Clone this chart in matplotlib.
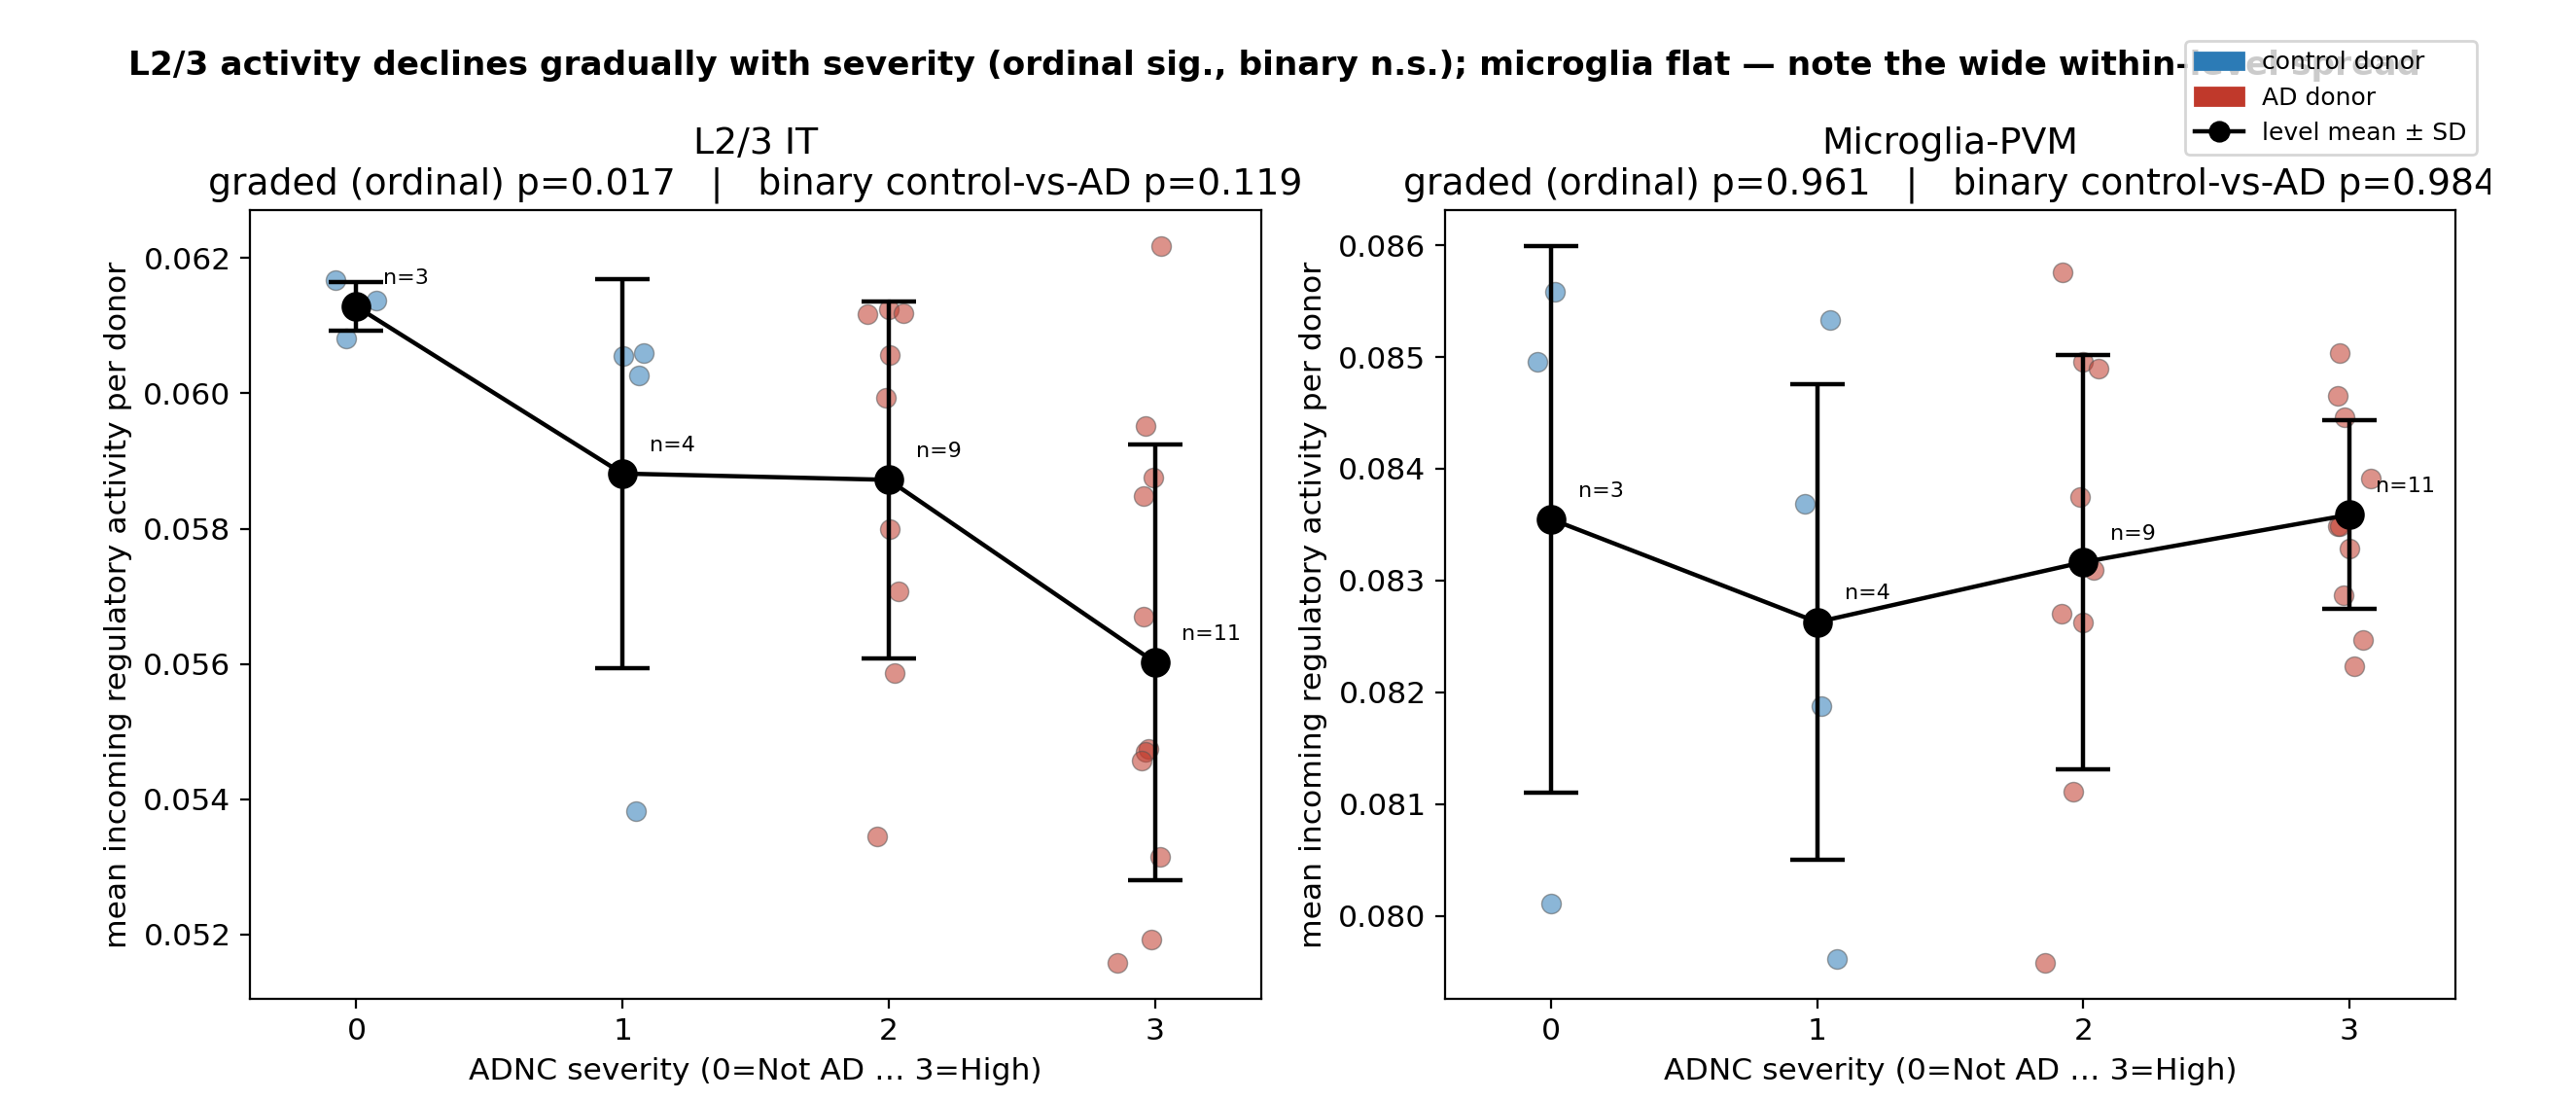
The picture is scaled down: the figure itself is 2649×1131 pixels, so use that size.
import numpy as np
import matplotlib
matplotlib.use("Agg")
import matplotlib.pyplot as plt
from matplotlib.patches import Patch
from matplotlib.lines import Line2D
from matplotlib.transforms import Bbox, TransformedBbox

# severity levels (ADNC 0..3); levels 0-1 are control donors, 2-3 AD donors
levels = [0, 1, 2, 3]
ad_levels = [2, 3]

# L2/3 IT: per-donor values and the horizontal jitter
l23_vals = [
    [0.06167, 0.06137, 0.06081],
    [0.06056, 0.06060, 0.06027, 0.05383],
    [0.06117, 0.06124, 0.06119, 0.06057, 0.05993, 0.05800, 0.05708, 0.05587, 0.05345],
    [0.06218, 0.05952, 0.05875, 0.05848, 0.05670, 0.05474, 0.05470, 0.05457,
     0.05315, 0.05192, 0.05158],
]
l23_jit = [
    [-0.077, 0.075, -0.040],
    [0.002, 0.081, 0.061, 0.051],
    [-0.080, 0.000, 0.054, 0.005, -0.012, 0.005, 0.037, 0.022, -0.044],
    [0.023, -0.034, -0.007, -0.041, -0.043, -0.023, -0.035, -0.049, 0.020, -0.012, -0.142],
]

# Microglia-PVM
mg_vals = [
    [0.085581, 0.084954, 0.080108],
    [0.085330, 0.083688, 0.081880, 0.079611],
    [0.085761, 0.084959, 0.084896, 0.083751, 0.083095, 0.082704, 0.082626, 0.081106, 0.079577],
    [0.085032, 0.084656, 0.084460, 0.083910, 0.083485, 0.083490, 0.083570, 0.083289,
     0.082872, 0.082465, 0.082233],
]
mg_jit = [
    [0.012, -0.054, 0.000],
    [0.048, -0.047, 0.016, 0.073],
    [-0.078, 0.001, 0.057, -0.012, 0.038, -0.080, 0.001, -0.036, -0.144],
    [-0.034, -0.042, -0.017, 0.081, -0.042, -0.035, 0.000, 0.000, -0.020, 0.052, 0.020],
]

panels = [
    ("L2/3 IT", "0.017", "0.119", l23_vals, l23_jit),
    ("Microglia-PVM", "0.961", "0.984", mg_vals, mg_jit),
]

suptitle = ("L2/3 activity declines gradually with severity (ordinal sig., binary n.s.); "
            "microglia flat \u2014 note the wide within-level spread")

c_ctrl = "#2c7bb6"
c_ad = "#c0392b"

W, H, DPI = 2649, 1131, 200


def main():
    fig = plt.figure(figsize=(W / DPI, H / DPI), dpi=DPI)
    boxes = [[257 / W, 1 - 1027 / H, 1040 / W, 811 / H],
             [1486 / W, 1 - 1027 / H, 1039 / W, 811 / H]]

    for box, (name, p_ord, p_bin, vals, jit) in zip(boxes, panels):
        ax = fig.add_axes(box)
        means, sds = [], []
        for lev, v, j in zip(levels, vals, jit):
            v = np.array(v)
            col = c_ad if lev in ad_levels else c_ctrl
            ax.scatter(lev + np.array(j), v, s=52, color=col, alpha=0.55,
                       edgecolor="#555555", linewidth=0.5, zorder=2)
            means.append(v.mean())
            sds.append(v.std())
        ax.errorbar(levels, means, yerr=sds, color="black", marker="o", ms=10,
                    lw=1.6, elinewidth=1.6, capsize=10, capthick=1.6, zorder=3)
        for lev, m, v in zip(levels, means, vals):
            ax.annotate(f"n={len(v)}", (lev, m), xytext=(10, 10.5),
                        textcoords="offset points", ha="left", va="center",
                        fontsize=8, zorder=4)
        ax.set_xlim(-0.4, 3.4)
        ax.set_xticks(levels)
        ax.tick_params(labelsize=11.3)
        ax.set_xlabel("ADNC severity (0=Not AD \u2026 3=High)", fontsize=11.3)
        ax.set_ylabel("mean incoming regulatory activity per donor", fontsize=11.3)
        t = ax.set_title(f"{name}\ngraded (ordinal) p={p_ord}   |   binary control-vs-AD p={p_bin}",
                         fontsize=13.6)
        t.set_clip_box(TransformedBbox(Bbox([[0, 0], [2561 / W, 1]]), fig.transFigure))
        t.set_clip_on(True)

    fig.text(1311 / W, 1 - 67 / H, suptitle, ha="center", va="center",
             fontsize=12.4, fontweight="bold")

    handles = [Patch(color=c_ctrl, label="control donor"),
               Patch(color=c_ad, label="AD donor"),
               Line2D([], [], color="black", marker="o", ms=7, lw=1.6,
                      label="level mean \u00b1 SD")]
    fig.legend(handles=handles, loc="upper right",
               bbox_to_anchor=(2547 / W, 1 - 42 / H), borderaxespad=0,
               fontsize=9)

    fig.savefig("out.png", dpi=DPI)


if __name__ == "__main__":
    main()
